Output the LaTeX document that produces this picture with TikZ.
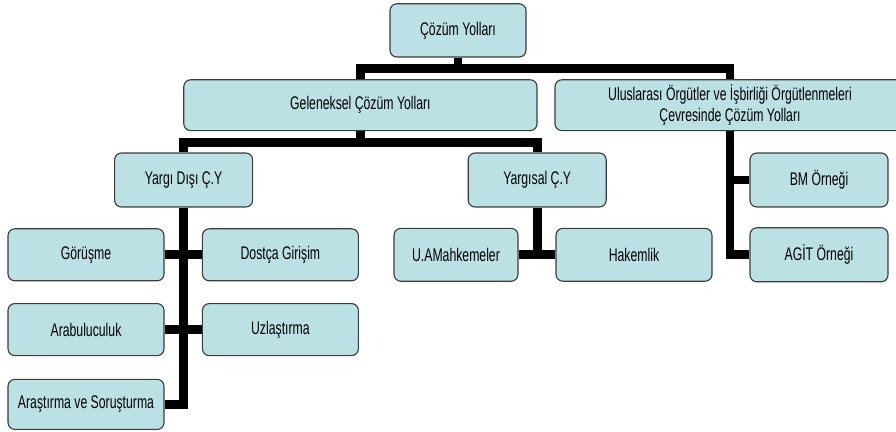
\documentclass[tikz,border=0pt]{standalone}
\usepackage{fontspec}
\setmainfont{Liberation Sans}[FakeStretch=0.67]
\usepackage{tikz}
\definecolor{yolfill}{RGB}{188,225,229}
\definecolor{yoldraw}{RGB}{60,60,60}
\tikzstyle{yol} = [rectangle, rounded corners=0.17cm,
minimum width=3.9cm,
minimum height=1.3cm,
text centered,
inner sep=1pt,
font=\fontsize{13}{14.5}\selectfont,
line width=0.8pt,
draw=yoldraw,
fill=yolfill]
\tikzstyle{bar} = [line width=0.22cm, black]

\begin{document}
\begin{tikzpicture}[node distance=1.87cm]
\useasboundingbox (0,0) rectangle (22.4,-10.8);

\node (top) [yol, minimum width=3.4cm, minimum height=1.33cm] at (11.45,-0.76) {Çözüm Yolları};

\node (gel) [yol, below of=top, xshift=-2.44cm, minimum width=8.83cm, minimum height=1.27cm] {Geleneksel Çözüm Yolları};
\node (ulus) [yol, below of=top, xshift=6.8cm, minimum width=8.75cm, minimum height=1.27cm, align=center] {Uluslarası Örgütler ve İşbirliği Örgütlenmeleri\\Çevresinde Çözüm Yolları};

\node (ydisi) [yol, below of=gel, xshift=-4.42cm, minimum width=3.45cm, minimum height=1.35cm] {Yargı Dışı Ç.Y};
\node (ysal) [yol, below of=gel, xshift=4.42cm, minimum width=3.45cm, minimum height=1.35cm] {Yargısal Ç.Y};

\node (bm) [yol, below of=ulus, xshift=2.225cm, minimum width=3.45cm, minimum height=1.35cm] {BM Örneği};
\node (agit) [yol, below of=bm, minimum width=3.45cm, minimum height=1.35cm] {AGİT Örneği};

\node (uam) [yol, below of=ysal, xshift=-2.03cm, minimum width=3.1cm, minimum height=1.32cm] {U.AMahkemeler};
\node (hakem) [yol, below of=ysal, xshift=2.42cm, minimum height=1.32cm] {Hakemlik};

\node (gor) [yol, below of=ydisi, xshift=-2.44cm] {Görüşme};
\node (dost) [yol, below of=ydisi, xshift=2.42cm] {Dostça Girişim};
\node (arab) [yol, below of=gor] {Arabuluculuk};
\node (uzl) [yol, below of=dost] {Uzlaştırma};
\node (aras) [yol, below of=arab, minimum height=1.25cm] {Araştırma ve Soruşturma};

\draw [bar] (top.south) -- ++(0,-0.28) -| (gel.north);
\draw [bar] (top.south) -- ++(0,-0.28) -| (ulus.north);

\draw [bar] (gel.south) -- ++(0,-0.29) -| (ydisi.north);
\draw [bar] (gel.south) -- ++(0,-0.29) -| (ysal.north);

\draw [bar] (ulus.south) |- (bm.west);
\draw [bar] (ulus.south) |- (agit.west);

\draw [bar] (ysal.south) |- (uam.east);
\draw [bar] (ysal.south) |- (hakem.west);

\draw [bar] (ydisi.south) |- (gor.east);
\draw [bar] (ydisi.south) |- (dost.west);
\draw [bar] (ydisi.south) |- (arab.east);
\draw [bar] (ydisi.south) |- (uzl.west);
\draw [bar] (ydisi.south) |- (aras.east);

\end{tikzpicture}
\end{document}
